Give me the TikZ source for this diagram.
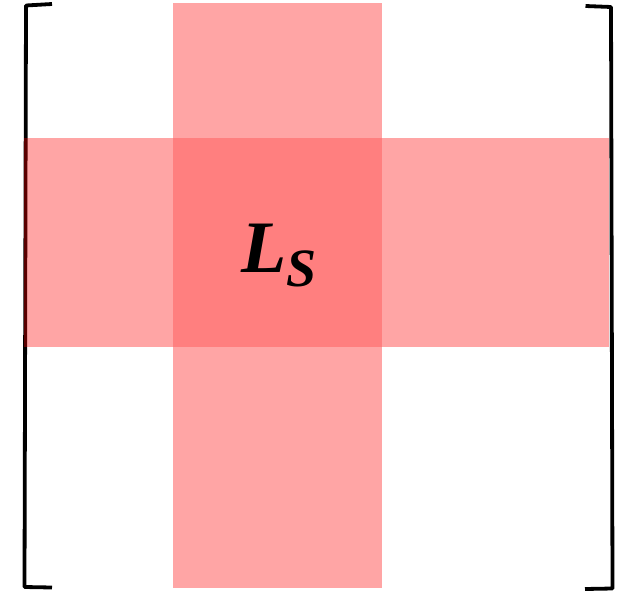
\documentclass[tikz,border=0pt]{standalone}
\usepackage{fontspec}
\setmainfont{Liberation Serif}
\definecolor{bandpink}{HTML}{FFA5A5}
\definecolor{overlappink}{HTML}{FF7F7F}
\begin{document}
\begin{tikzpicture}[x=1pt,y=-1pt,
  bracketline/.style={line width=3.8pt,line join=round,line cap=butt},
  band/.style={fill=red,fill opacity=0.353,draw=none},
  core/.style={fill=overlappink,draw=none}]
\useasboundingbox (0,0) rectangle (623,591);
% brackets
\draw[bracketline] (52,4) -- (26,5.5) -- (24.5,587) -- (52,587.5);
\draw[bracketline] (585.5,6) -- (611,7) -- (612.5,588.5) -- (585,589);
% bands
\fill[band] (173,3) rectangle (382,588);
\fill[band] (24,138) rectangle (609,347);
\fill[core] (173,138) rectangle (382,347);
% label
\node[inner sep=0pt,anchor=base west] (ls) at (241,272)
  {\fontsize{74}{74}\selectfont\bfseries\itshape L\raisebox{-14pt}{\fontsize{54}{54}\selectfont S}};
\end{tikzpicture}
\end{document}
